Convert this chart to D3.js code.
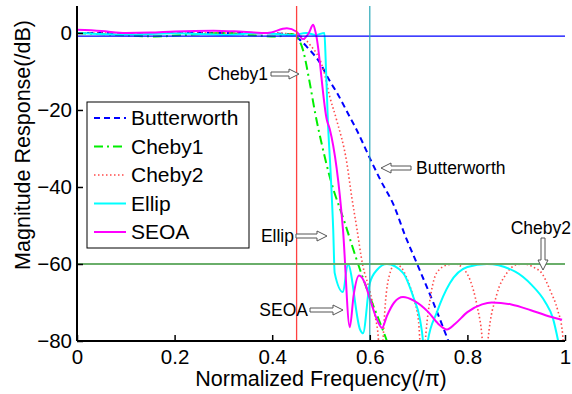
<!DOCTYPE html>
<html>
<head>
<meta charset="utf-8">
<script src="https://cdn.jsdelivr.net/npm/d3@7"></script>
<style>
  body { margin: 0; background: #fff; }
  svg { font-family: "Liberation Sans", Arial, sans-serif; }
</style>
</head>
<body>
<svg id="chart"></svg>
<script>
const width = 572;
const height = 394;

// [normalized frequency, dB]
const butterworth = [[0,0],[0.3,0],[0.4,-0.1],[0.44,-0.5],[0.457,-1.8],[0.471,-3.6],[0.498,-7.8],[0.518,-12.5],[0.533,-15.6],[0.559,-21.8],[0.57,-24.4],[0.6,-32.5],[0.621,-38],[0.65,-45],[0.672,-52.5],[0.697,-60],[0.73,-70],[0.758,-79],[0.77,-83]];
const cheby1 = [[0,0],[0.08,-0.5],[0.16,-0.9],[0.24,-0.4],[0.3,0],[0.36,-0.6],[0.41,-0.9],[0.44,-0.3],[0.45,-1],[0.463,-4.4],[0.477,-13],[0.488,-20.8],[0.5,-28],[0.518,-37.4],[0.549,-49.4],[0.58,-61.5],[0.6,-68.5],[0.617,-74],[0.635,-80],[0.645,-84]];
const cheby2 = [[0,0],[0.4,0],[0.45,-0.5],[0.477,-3],[0.505,-9.6],[0.518,-16.6],[0.532,-22.6],[0.553,-33.8],[0.563,-42.6],[0.573,-50.4],[0.585,-60],[0.6,-67],[0.61,-73],[0.618,-80],[0.622,-90],[0.627,-80],[0.632,-70],[0.64,-63],[0.652,-60],[0.665,-61],[0.677,-64],[0.69,-69],[0.7,-75],[0.708,-90],[0.715,-78],[0.725,-68],[0.737,-62.3],[0.76,-60.2],[0.775,-60],[0.79,-61],[0.805,-64],[0.82,-71],[0.83,-79],[0.836,-90],[0.842,-80],[0.86,-68],[0.88,-62.5],[0.9,-60.2],[0.915,-60],[0.935,-60.8],[0.953,-62.5],[0.97,-67],[0.985,-72],[0.995,-78],[1,-90]];
const ellip = [[0,0],[0.1,-0.4],[0.2,-0.1],[0.3,-0.5],[0.38,0],[0.44,-0.6],[0.47,0],[0.49,-0.5],[0.507,0],[0.509,-5],[0.514,-22.6],[0.52,-37],[0.525,-51],[0.528,-62.3],[0.545,-67.3],[0.555,-60],[0.58,-77],[0.586,-78],[0.6,-65],[0.615,-61.5],[0.635,-60],[0.668,-62.3],[0.689,-68.5],[0.703,-74.5],[0.709,-80],[0.714,-90],[0.719,-80],[0.737,-72.7],[0.764,-65],[0.8,-60.8],[0.84,-60],[0.898,-62],[0.932,-65.5],[0.959,-69.8],[0.975,-74],[0.986,-80],[1,-90]];
const seoa = [[0,0.8],[0.05,0.5],[0.1,0],[0.15,0.1],[0.2,0.4],[0.28,0.6],[0.34,0.3],[0.39,0],[0.43,1.2],[0.45,0.3],[0.463,-1.6],[0.475,0],[0.484,2.1],[0.49,-0.5],[0.512,-22.6],[0.518,-25],[0.545,-51],[0.559,-76.4],[0.567,-68],[0.578,-63],[0.59,-65],[0.6,-69],[0.615,-74.5],[0.625,-76.6],[0.635,-73.5],[0.65,-70],[0.668,-68.6],[0.69,-69.5],[0.72,-72.5],[0.74,-75.5],[0.758,-77],[0.775,-75.5],[0.8,-72.5],[0.83,-70.5],[0.85,-70],[0.89,-70.5],[0.93,-72],[0.96,-73.3],[0.994,-74.5]];

const seriesNames = ['Butterworth', 'Cheby1', 'Cheby2', 'Ellip', 'SEOA'];
const seriesData = [butterworth, cheby1, cheby2, ellip, seoa];
const seriesColors = ['#0000ff', '#00ee00', '#ff4a4a', '#00ffff', '#ff00ff'];
const seriesDash = ['6,4', '9,4,2,4', '1.5,2.5', null, null];
const seriesWidth = [2, 2, 1.6, 2, 2];

const xTicks = [0, 0.2, 0.4, 0.6, 0.8, 1];
const yTicks = [0, -20, -40, -60, -80];

const passLine = -0.8;
const stopLine = -60;
const passEdge = 0.45;
const stopEdge = 0.6;

// annotations: label, arrow tail and tip
const notes = [
  { text: 'Cheby1', tx: 268, ty: 74, anchor: 'end', from: [271, 74], to: [299, 74] },
  { text: 'Butterworth', tx: 416, ty: 168, anchor: 'start', from: [411, 168], to: [381, 168] },
  { text: 'Ellip', tx: 294, ty: 236, anchor: 'end', from: [296, 236], to: [327, 236] },
  { text: 'SEOA', tx: 308, ty: 310, anchor: 'end', from: [310, 310], to: [343, 310] },
  { text: 'Cheby2', tx: 571, ty: 228, anchor: 'end', from: [543, 238], to: [543, 270] }
];

const plotLeft = 77, plotRight = 565, plotTop = 6, plotBottom = 341;

const svg = d3.select('#chart').attr('width', width).attr('height', height);

const x = d3.scaleLinear().domain([0, 1]).range([plotLeft, plotRight]);
const y = d3.scaleLinear().domain([-80, 7]).range([plotBottom, plotTop]);

svg.append('clipPath').attr('id', 'plot-clip')
  .append('rect').attr('x', plotLeft).attr('y', plotTop)
  .attr('width', plotRight - plotLeft).attr('height', plotBottom - plotTop);

const plot = svg.append('g').attr('clip-path', 'url(#plot-clip)');

const line = d3.line().x(d => x(d[0])).y(d => y(d[1])).curve(d3.curveMonotoneX);

seriesData.forEach((data, i) => {
  plot.append('path')
    .datum(data)
    .attr('d', line)
    .attr('fill', 'none')
    .attr('stroke', seriesColors[i])
    .attr('stroke-width', seriesWidth[i])
    .attr('stroke-dasharray', seriesDash[i])
    .attr('stroke-linejoin', 'round');
});

// reference lines
plot.append('line')
  .attr('x1', x(0)).attr('x2', x(1)).attr('y1', y(passLine)).attr('y2', y(passLine))
  .attr('stroke', '#0000ff').attr('stroke-width', 1.2);
plot.append('line')
  .attr('x1', x(0)).attr('x2', x(1)).attr('y1', y(stopLine)).attr('y2', y(stopLine))
  .attr('stroke', '#6aae6a').attr('stroke-width', 2);
plot.append('line')
  .attr('x1', x(passEdge)).attr('x2', x(passEdge)).attr('y1', plotTop).attr('y2', plotBottom)
  .attr('stroke', '#ff4040').attr('stroke-width', 1.3);
plot.append('line')
  .attr('x1', x(stopEdge)).attr('x2', x(stopEdge)).attr('y1', plotTop).attr('y2', plotBottom)
  .attr('stroke', '#2aa8b8').attr('stroke-width', 1.2);

// axes
const xAxis = svg.append('g').attr('transform', `translate(0, ${plotBottom})`)
  .call(d3.axisBottom(x).tickValues(xTicks).tickSize(-6).tickPadding(8)
    .tickFormat(d => d === 0 || d === 1 ? d3.format('d')(d) : d3.format('.1f')(d)));
const yAxis = svg.append('g').attr('transform', `translate(${plotLeft}, 0)`)
  .call(d3.axisLeft(y).tickValues(yTicks).tickSize(-6).tickPadding(5)
    .tickFormat(d => d < 0 ? '\u2212' + Math.abs(d) : d));

[xAxis, yAxis].forEach(a => {
  a.select('.domain').attr('stroke', '#000').attr('stroke-width', 2);
  a.selectAll('.tick line').attr('stroke', '#000').attr('stroke-width', 1.5);
  a.selectAll('.tick text').attr('font-size', 20.5).attr('fill', '#000')
    .attr('font-family', '"Liberation Sans", Arial, sans-serif');
});
xAxis.select('.domain').attr('d', `M${plotLeft},0H${plotRight}`);
yAxis.select('.domain').attr('d', `M0,${plotTop}V${plotBottom}`);

svg.append('text')
  .attr('x', 321).attr('y', 386)
  .attr('text-anchor', 'middle').attr('font-size', 21.5)
  .text('Normalized Frequency(/\u03c0)');

svg.append('text')
  .attr('transform', 'translate(30, 145) rotate(-90)')
  .attr('text-anchor', 'middle').attr('font-size', 21.5)
  .text('Magnitude Response(/dB)');

// annotations
function arrowPath(from, to) {
  const dx = to[0] - from[0], dy = to[1] - from[1];
  const len = Math.hypot(dx, dy);
  const ux = dx / len, uy = dy / len, px = -uy, py = ux;
  const head = 10, hw = 5, sw = 2;
  const bx = to[0] - ux * head, by = to[1] - uy * head;
  const pts = [
    [from[0] + px * sw, from[1] + py * sw],
    [bx + px * sw, by + py * sw],
    [bx + px * hw, by + py * hw],
    to,
    [bx - px * hw, by - py * hw],
    [bx - px * sw, by - py * sw],
    [from[0] - px * sw, from[1] - py * sw]
  ];
  return 'M' + pts.map(p => p.join(',')).join('L') + 'Z';
}

const noteG = svg.append('g');
notes.forEach(n => {
  noteG.append('path')
    .attr('d', arrowPath(n.from, n.to))
    .attr('fill', '#fff').attr('stroke', '#555').attr('stroke-width', 1);
  noteG.append('text')
    .attr('x', n.tx).attr('y', n.ty).attr('dy', '0.35em')
    .attr('text-anchor', n.anchor).attr('font-size', 17.5)
    .text(n.text);
});

// legend
const legend = svg.append('g').attr('transform', 'translate(87, 102)');
legend.append('rect')
  .attr('width', 162).attr('height', 146)
  .attr('fill', '#fff').attr('stroke', '#000').attr('stroke-width', 1);
seriesNames.forEach((name, i) => {
  const ly = 16 + i * 28.5;
  legend.append('line')
    .attr('x1', 7).attr('x2', 39).attr('y1', ly).attr('y2', ly)
    .attr('stroke', seriesColors[i])
    .attr('stroke-width', seriesWidth[i])
    .attr('stroke-dasharray', seriesDash[i]);
  legend.append('text')
    .attr('x', 44).attr('y', ly).attr('dy', '0.35em')
    .attr('font-size', 21)
    .text(name);
});
</script>
</body>
</html>
